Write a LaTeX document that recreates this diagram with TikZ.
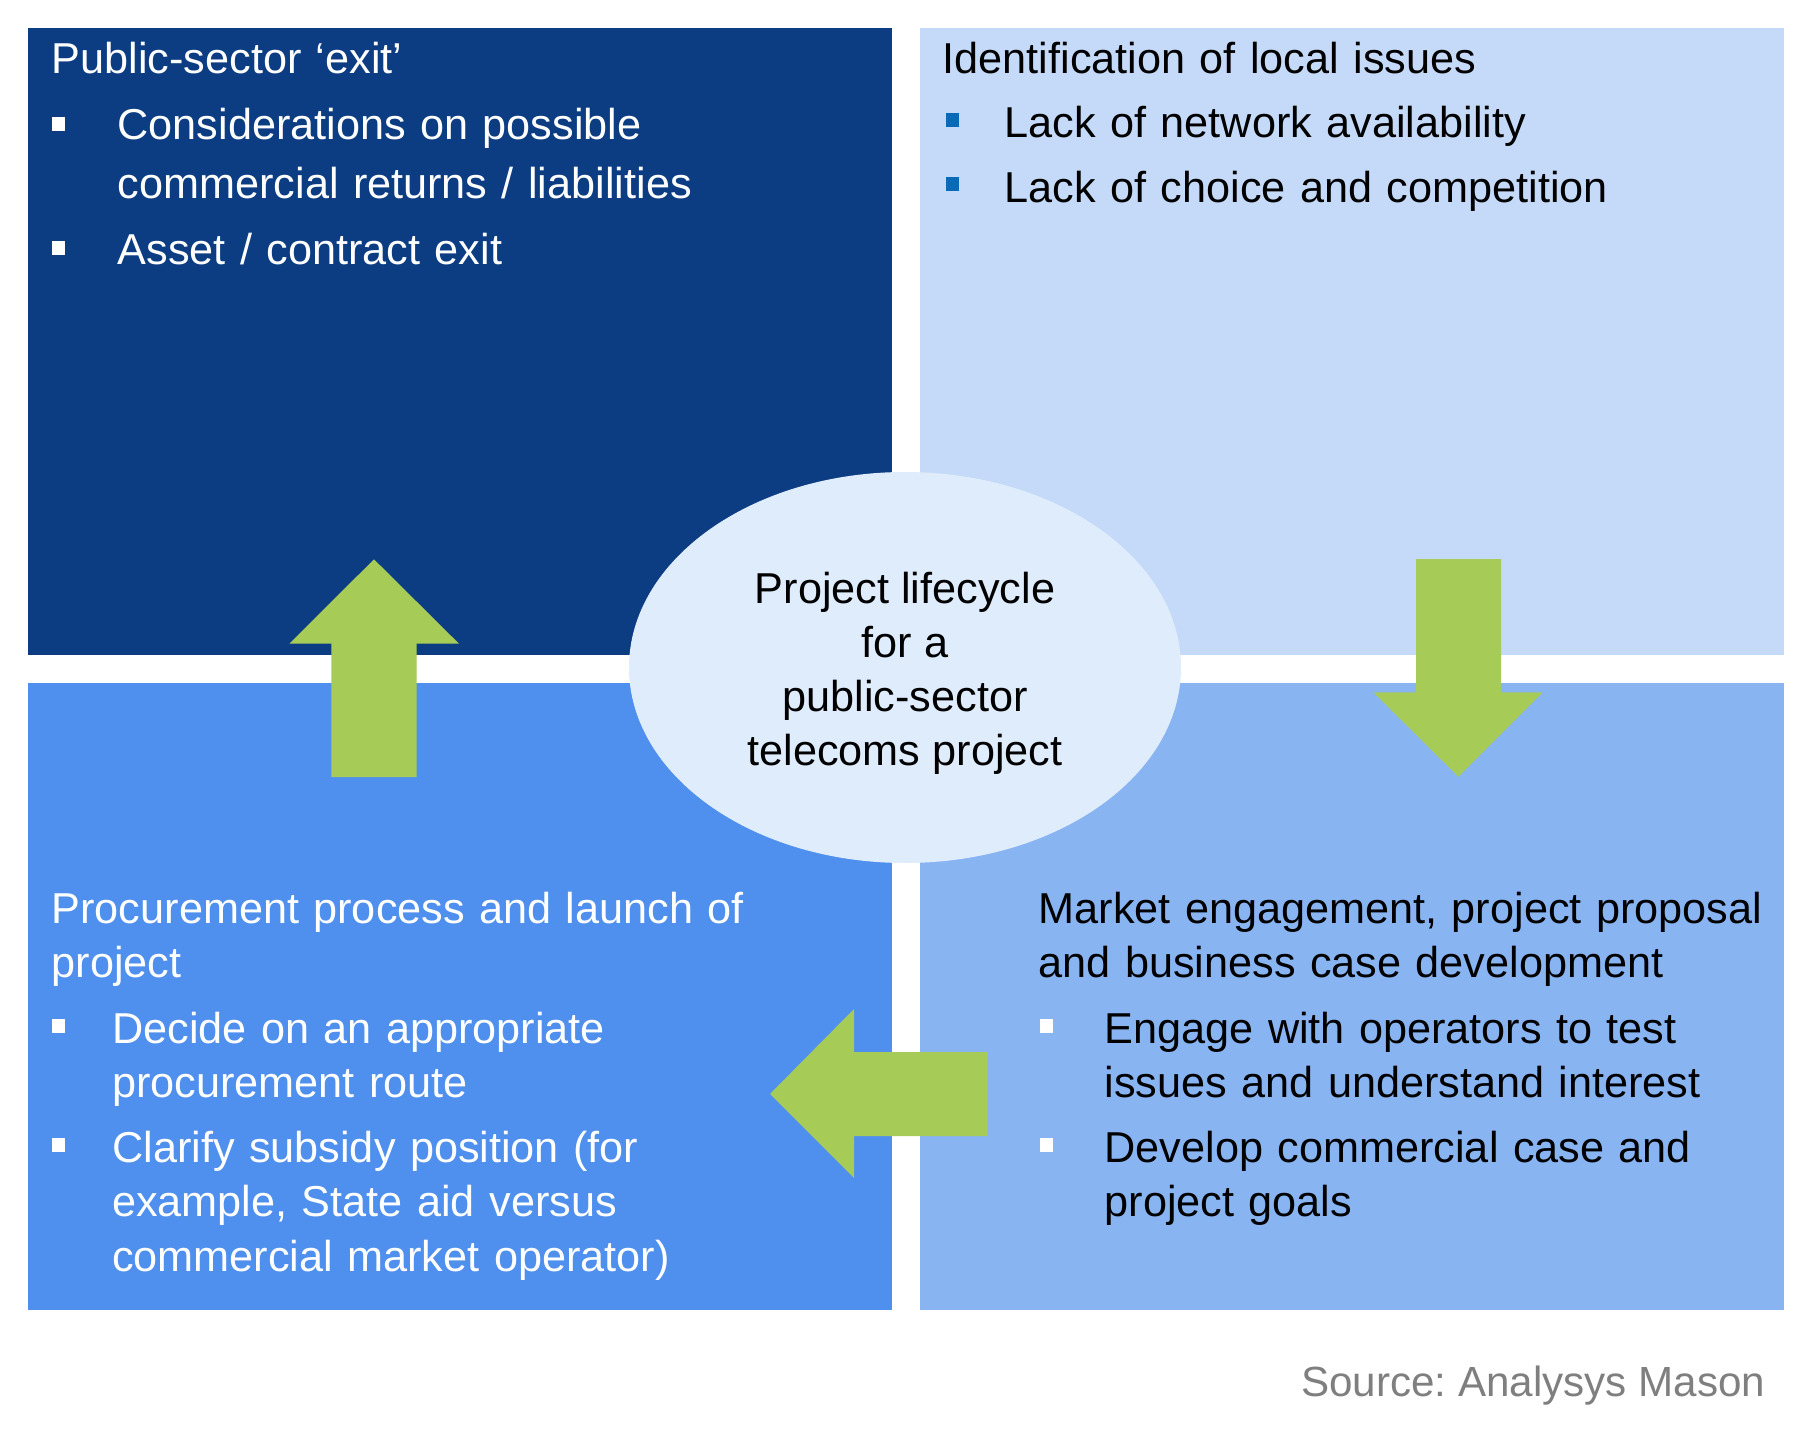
\documentclass[tikz,border=0pt]{standalone}
\usepackage{fontspec}
\setmainfont{Liberation Sans}
\usetikzlibrary{positioning,shapes.geometric}

\definecolor{navyq}{HTML}{0C3C82}
\definecolor{paleq}{HTML}{C4DAF8}
\definecolor{midq}{HTML}{4F8FED}
\definecolor{softq}{HTML}{89B4F2}
\definecolor{hubfill}{HTML}{DFECFB}
\definecolor{arrowgreen}{HTML}{A6CB57}
\definecolor{bulletblue}{HTML}{0B6AB5}
\definecolor{srcgray}{HTML}{7F7F7F}

\begin{document}
\frenchspacing
\begin{tikzpicture}[
      quad/.style={rectangle, inner sep=0pt, outer sep=0pt, minimum width=8.64cm, minimum height=6.27cm},
      hub/.style={ellipse, fill=hubfill, inner sep=0pt, minimum width=5.52cm, minimum height=3.91cm},
      hubtext/.style={inner sep=0pt, align=center, font=\fontsize{12.3}{15.4}\selectfont},
      head/.style={anchor=base west, inner sep=0pt, text width=8cm, align=left, font=\fontsize{12.3}{15.6}\selectfont},
      item/.style={anchor=base west, inner sep=0pt, text width=7.6cm, align=left, font=\fontsize{12.3}{15.6}\selectfont},
      blt/.style={rectangle, inner sep=0pt, minimum width=0.13cm, minimum height=0.14cm},
      greenarrow/.style={fill=arrowgreen}]
    \useasboundingbox (0,0) rectangle (18.13,-14.35);
    % Quadrants
    \node[quad, fill=navyq] (exit)   at (4.5975,-3.4125) {};
    \node[quad, fill=paleq] (issues) at (13.515,-3.4125) {};
    \node[quad, fill=midq]  (proc)   at (4.5975,-9.965)  {};
    \node[quad, fill=softq] (market) at (13.515,-9.965)  {};
    % Public-sector exit
    \node[head, text=white] (exitT) at (0.51,-0.74) {Public-sector ‘exit’};
    \node[blt, fill=white] (exitB1) at (0.585,-1.24) {};
    \node[item, text=white, font=\fontsize{12.3}{16.7}\selectfont] (exitI1) at (1.17,-1.40) {Considerations on possible\\commercial returns / liabilities};
    \node[blt, fill=white] (exitB2) at (0.585,-2.48) {};
    \node[item, text=white] (exitI2) at (1.17,-2.65) {Asset / contract exit};
    % Local issues
    \node[head] (issuesT) at (9.42,-0.74) {Identification of local issues};
    \node[blt, fill=bulletblue] (issuesB1) at (9.52,-1.20) {};
    \node[item] (issuesI1) at (10.04,-1.38) {Lack of network availability};
    \node[blt, fill=bulletblue] (issuesB2) at (9.52,-1.84) {};
    \node[item] (issuesI2) at (10.04,-2.03) {Lack of choice and competition};
    % Procurement
    \node[head, text=white] (procT) at (0.51,-9.23) {Procurement process and launch of\\project};
    \node[blt, fill=white] (procB1) at (0.585,-10.26) {};
    \node[item, text=white] (procI1) at (1.115,-10.43) {Decide on an appropriate\\procurement route};
    \node[blt, fill=white] (procB2) at (0.585,-11.45) {};
    \node[item, text=white] (procI2) at (1.115,-11.62) {Clarify subsidy position (for\\example, State aid versus\\commercial market operator)};
    % Market engagement
    \node[head] (marketT) at (10.38,-9.23) {Market engagement, project proposal\\and business case development};
    \node[blt, fill=white] (marketB1) at (10.46,-10.26) {};
    \node[item] (marketI1) at (11.04,-10.43) {Engage with operators to test\\issues and understand interest};
    \node[blt, fill=white] (marketB2) at (10.46,-11.45) {};
    \node[item] (marketI2) at (11.04,-11.62) {Develop commercial case and\\project goals};
    % Centre
    \node[hub] (life) at (9.05,-6.675) {};
    \node[hubtext] (lifeT) at ([yshift=-0.06cm]life.center) {Project lifecycle\\for a\\public-sector\\telecoms project};
    % Arrows
    \fill[greenarrow] (3.313,-7.77) -- (3.313,-6.437) -- (2.893,-6.437) -- (3.74,-5.593)
      -- (4.59,-6.437) -- (4.167,-6.437) -- (4.167,-7.77) -- cycle;
    \fill[greenarrow] (14.16,-5.59) -- (14.16,-6.923) -- (13.733,-6.923) -- (14.583,-7.767)
      -- (15.427,-6.923) -- (15.01,-6.923) -- (15.01,-5.59) -- cycle;
    \fill[greenarrow] (9.875,-10.52) -- (8.54,-10.52) -- (8.54,-10.09) -- (7.70,-10.94)
      -- (8.54,-11.78) -- (8.54,-11.36) -- (9.875,-11.36) -- cycle;
    % Source
    \node[anchor=base east, inner sep=0pt, text=srcgray, font=\fontsize{12}{14}\selectfont] (src) at (17.66,-13.96) {Source: Analysys Mason};
  \end{tikzpicture}
\end{document}
